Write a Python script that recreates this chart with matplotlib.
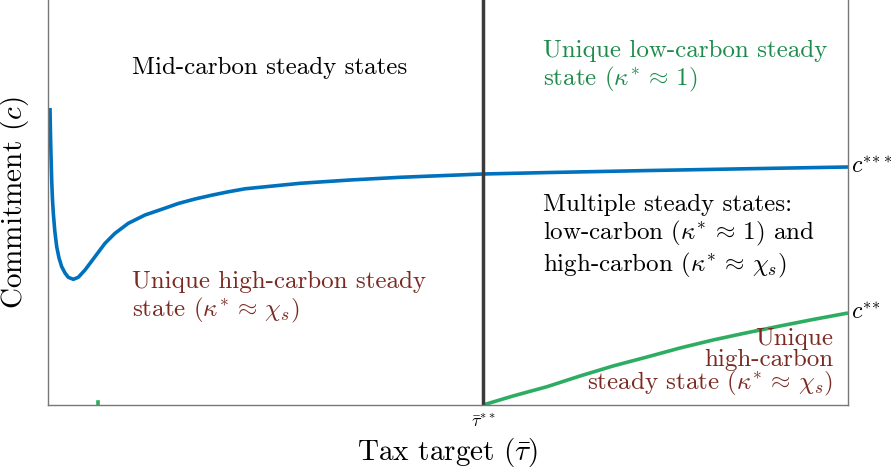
import numpy as np
import matplotlib
matplotlib.use("Agg")
from matplotlib import pyplot as plt

plt.rcParams['font.family'] = 'serif'
plt.rcParams['font.serif'] = ['cmr10']
plt.rcParams['mathtext.fontset'] = 'cm'
plt.rcParams['axes.formatter.use_mathtext'] = True

# Data in arbitrary chart units (no numeric ticks on either axis)
tau_high = [2, 2.5, 3.0, 3.7, 4.4, 5.3, 6.8, 8.7, 11, 13.7, 17, 20.3, 25.3, 30.3,
            37, 47, 57, 67, 80.3, 97, 113.7, 130.3, 147, 163.7, 180.3, 197, 252,
            302, 352, 435, 502, 602, 702, 800]
c_high = [297, 270, 250, 225, 207, 192, 174, 158.3, 147, 138.3, 132, 127.7, 125.7,
          127.7, 135, 148.3, 161.7, 171.7, 181.7, 190, 195.7, 201.5, 206, 209.8,
          213.2, 216.2, 221.7, 225, 227.7, 231, 232.5, 234.5, 236.3, 238]

tau_low = [435, 465, 499, 532, 565, 599, 632, 665, 699, 732, 765, 800]
c_low = [0, 9, 18.3, 29, 39, 48, 57, 65, 72.3, 79, 85.5, 92]

tau_star = 435
tick_labels = [r'$\bar{\tau}^{**}$']

blue = '#0072BD'
green = '#2EAD62'
green_text = '#1E8B4C'
red_text = '#7A2A22'

fig = plt.figure(figsize=(8.91, 4.76), dpi=100)
ax = fig.add_axes([48/891, 71/476, 800/891, 405/476])

ax.plot(tau_high, c_high, color=blue, lw=2.6, solid_capstyle='butt')
ax.plot(tau_low, c_low, color=green, lw=2.6, solid_capstyle='butt')
ax.plot([50, 50], [0, 3], color=green, lw=2.6)
ax.axvline(tau_star, color='#3a3a3a', lw=2.5)

ax.set_xlim(0, 800)
ax.set_ylim(0, 405)
ax.set_xticks([tau_star])
ax.set_xticklabels(tick_labels, fontsize=13)
ax.set_yticks([])
ax.tick_params(axis='x', length=0, pad=6)
ax.spines['top'].set_visible(False)
for s in ['left', 'bottom', 'right']:
    ax.spines[s].set_color('#777777')
    ax.spines[s].set_linewidth(1.0)

ax.set_xlabel(r'Tax target ($\bar{\tau}$)', fontsize=21, labelpad=4)
ax.set_ylabel(r'Commitment ($c$)', fontsize=21, labelpad=12)

fs = 18
ls = 1.15
approx = r'\,\approx\,'
ax.text(84, 337, 'Mid-carbon steady states', fontsize=fs, color='black',
        va='center', ha='left')
ax.text(495, 338, 'Unique low-carbon steady\n' + r'state ($\kappa^{*}' + approx + r'1$)',
        fontsize=fs, color=green_text, va='center', ha='left', linespacing=ls)
ax.text(495, 168, 'Multiple steady states:\n' + r'low-carbon ($\kappa^{*}' + approx + r'1$) and' + '\n'
        + r'high-carbon ($\kappa^{*}' + approx + r'\chi_s$)',
        fontsize=fs, color='black', va='center', ha='left', linespacing=ls)
ax.text(84, 107, 'Unique high-carbon steady\n' + r'state ($\kappa^{*}' + approx + r'\chi_s$)',
        fontsize=fs, color=red_text, va='center', ha='left', linespacing=ls)
ax.text(785, 42, 'Unique\nhigh-carbon\n' + r'steady state ($\kappa^{*}' + approx + r'\chi_s$)',
        fontsize=fs, color=red_text, va='center', ha='right', linespacing=0.93)

ax.text(803, c_high[-1], r'$c^{*\!*\!*}$', fontsize=17, va='center', ha='left')
ax.text(803, c_low[-1], r'$c^{*\!*}$', fontsize=17, va='center', ha='left')

fig.savefig('out.png', dpi=100)
